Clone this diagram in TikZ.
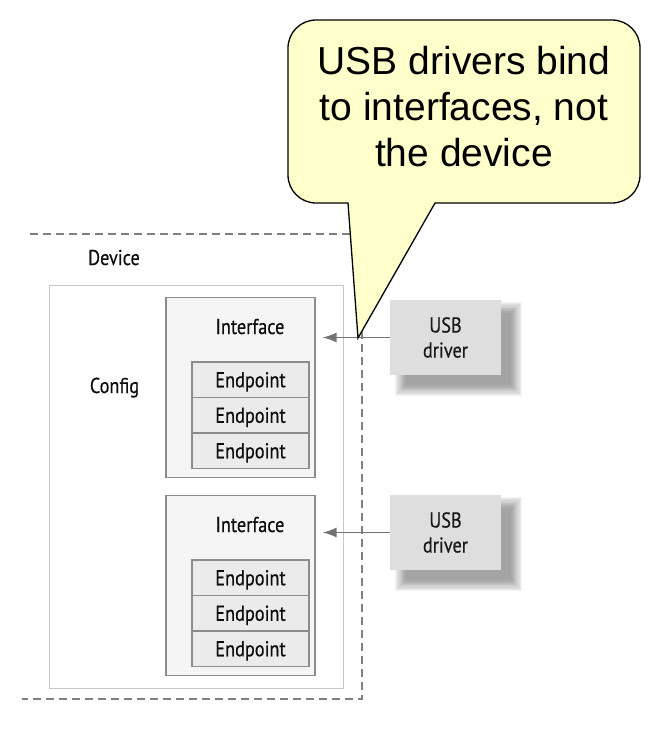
\documentclass[tikz,border=0pt]{standalone}
\usepackage{fontspec}
\setmainfont{Liberation Sans}
\newfontfamily\condfont[FakeStretch=0.85,FakeBold=0.4]{PT Sans}
\usetikzlibrary{arrows.meta}
\definecolor{calloutfill}{HTML}{FFFFCC}
\pgfdeclarelayer{bg}
\pgfsetlayers{bg,main}
\begin{document}
\begin{tikzpicture}[x=1pt,y=-1pt,
  smallfont/.style={font=\condfont\fontsize{21.5}{25}\selectfont},
  lbl/.style={smallfont, text=black!95, inner sep=0pt},
  configbox/.style={draw=black!22, line width=1pt, fill=white, inner sep=0pt,
    minimum width=294pt, minimum height=403pt},
  ifbox/.style={draw=black!45, line width=1.2pt, fill=black!4, inner sep=0pt,
    minimum width=149pt, minimum height=180pt},
  epbox/.style={draw=black!45, line width=1.1pt, fill=black!8, inner sep=0pt,
    minimum width=117pt, minimum height=35.5pt, smallfont, text=black!95,
    text height=15pt, text depth=0pt},
  drvbox/.style={fill=black!13, inner sep=0pt, minimum width=111pt,
    minimum height=75pt, align=center, smallfont, text=black!90},
  devline/.style={draw=black!50, line width=1.2pt, dash pattern=on 8pt off 5pt},
  arr/.style={draw=black!55, line width=1.5pt, -{Latex[length=14pt,width=10pt]}},
  callout/.style={draw=black, line width=1.3pt, fill=calloutfill, line join=miter}
]
\useasboundingbox (0,0) rectangle (666,736);

% config box
\node[configbox] (config) at (196,486.5) {};
\node[lbl, anchor=base] (configlbl) at (114.5,393) {Config};
\node[lbl, anchor=base] (devlbl) at (114,265) {Device};

% interface 1
\node[ifbox] (if1) at (240.5,387.5) {};
\node[lbl, anchor=base] (if1lbl) at (250,334) {Interface};
\node[epbox] (ep11) at (250.5,379.75) {Endpoint};
\node[epbox] (ep12) at (250.5,415.25) {Endpoint};
\node[epbox] (ep13) at (250.5,450.75) {Endpoint};

% interface 2
\node[ifbox] (if2) at (240.5,585.5) {};
\node[lbl, anchor=base] (if2lbl) at (250,532) {Interface};
\node[epbox] (ep21) at (250.5,577.75) {Endpoint};
\node[epbox] (ep22) at (250.5,613.25) {Endpoint};
\node[epbox] (ep23) at (250.5,648.75) {Endpoint};

% device outline
\draw[devline] (30,234) -- (362,234) -- (362,699) -- (22,699);

% drivers
\node[drvbox] (drv1) at (445.5,337.5) {USB\\driver};
\node[drvbox] (drv2) at (445.5,532.5) {USB\\driver};

\begin{pgfonlayer}{bg}
\foreach \d in {drv1,drv2}{
  \foreach \i in {0,...,9}{
    \fill[black, opacity=0.045]
      ([shift={(5+1.2*\i,2+1.2*\i)}]\d.north west) rectangle
      ([shift={(21-1.2*\i,21-1.2*\i)}]\d.south east);
  }
}
\end{pgfonlayer}

% arrows
\draw[arr] (drv1.west) -- ([xshift=7pt]drv1.west -| if1.east);
\draw[arr] (drv2.west) -- ([xshift=7pt]drv2.west -| if2.east);

% callout
\draw[callout] (348,203) -- (358,338) -- (435,203) -- (612,203)
  .. controls (627.5,203) and (640,190.5) .. (640,175) -- (640,48)
  .. controls (640,32.5) and (627.5,20) .. (612,20) -- (316,20)
  .. controls (300.5,20) and (288,32.5) .. (288,48) -- (288,175)
  .. controls (288,190.5) and (300.5,203) .. (316,203) -- cycle;
\node[font=\fontsize{39}{46}\selectfont, align=center, inner sep=0pt] (note)
  at (464,107) {USB drivers bind\\to interfaces, not\\the device};
\end{tikzpicture}
\end{document}
